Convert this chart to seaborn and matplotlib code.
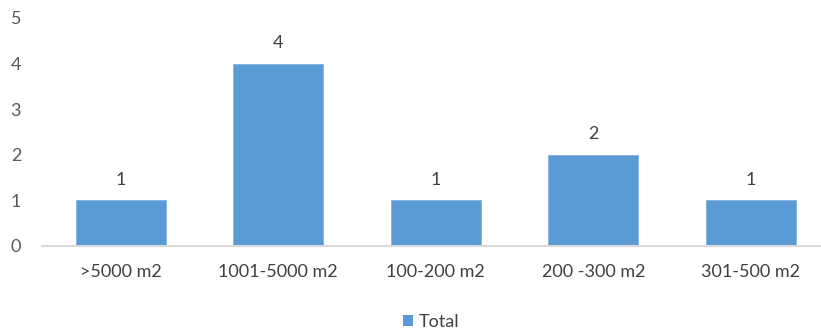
import matplotlib
matplotlib.use("Agg")
import matplotlib.pyplot as plt
import seaborn as sns
import pandas as pd
from matplotlib.patches import Patch

categories = [">5000 m2", "1001-5000 m2", "100-200 m2", "200 -300 m2", "301-500 m2"]
values = [1, 4, 1, 2, 1]
series_name = "Total"

sns.set_theme(style="white")
plt.rcParams['font.family'] = ['Lato', 'DejaVu Sans']

df = pd.DataFrame({"cat": categories, "val": values})

fig = plt.figure(figsize=(8.21, 3.32), dpi=100)
ax = fig.add_axes([42/821, (332-246)/332, (821-42)/821, (246-18)/332])
bar_color = "#5B9BD5"
sns.barplot(data=df, x="cat", y="val", color=bar_color, width=0.57, ax=ax,
            saturation=1, edgecolor="#7FB2E0", linewidth=0.6)

ax.set_xlim(-0.5, 4.446)
ax.set_ylim(0, 5)
ax.set_yticks([0, 1, 2, 3, 4, 5])
ax.set_xlabel("")
ax.set_ylabel("")
for s in ["top", "right", "left"]:
    ax.spines[s].set_visible(False)
ax.spines["bottom"].set_color("#D9D9D9")
ax.spines["bottom"].set_linewidth(1.5)
ax.tick_params(axis="y", length=0, pad=15, labelsize=13, labelcolor="#595959")
ax.tick_params(axis="x", length=0, pad=13, labelsize=13, labelcolor="#404040")

for i, v in enumerate(values):
    ax.annotate(str(v), (i, v), xytext=(0, 9), textcoords="offset points",
                ha="center", va="bottom", fontsize=13, color="#404040")

handles = [Patch(facecolor=bar_color, edgecolor="none", label=series_name)]
fig.legend(handles=handles, loc="center", bbox_to_anchor=(0.525, 0.03),
           frameon=False, fontsize=13, handlelength=0.6, handleheight=0.6,
           handletextpad=0.3, labelcolor="#404040")

fig.savefig("out.png", dpi=100)
